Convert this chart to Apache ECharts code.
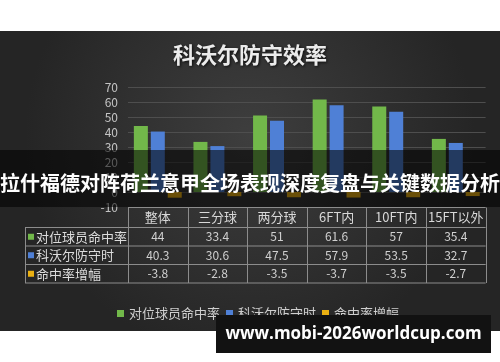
<!DOCTYPE html>
<html><head><meta charset="utf-8">
<script src="https://cdn.jsdelivr.net/npm/echarts@6/dist/echarts.min.js"></script>
<style>html,body{margin:0;padding:0;background:#fff}#c{width:500px;height:362px}</style>
</head><body><div id="c"></div>
<script>
// ---- data ----
const categories = ['整体', '三分球', '两分球', '6FT内', '10FT内', '15FT以外'];
const seriesNames = ['对位球员命中率', '科沃尔防守时', '命中率增幅'];
const opponentPct = [44, 33.4, 51, 61.6, 57, 35.4];
const korverDefPct = [40.3, 30.6, 47.5, 57.9, 53.5, 32.7];
const pctChange = [-3.8, -2.8, -3.5, -3.7, -3.5, -2.7];
const yMin = -10, yMax = 70, yInterval = 10;
const chartTitle = '科沃尔防守效率';
const bannerText = '拉什福德对阵荷兰意甲全场表现深度复盘与关键数据分析';
const watermarkText = 'www.mobi-2026worldcup.com';

// ---- layout / style ----
const FONT = '"Noto Sans CJK SC", "Noto Sans", sans-serif';
const colors = ['#72b84a', '#4f80d6', '#eab012'];
const gL = 128, gR = 485.6, gT = 87, gB = 207;
const colW = (gR - gL) / categories.length;
const tableTop = 207.5, rowLines = [227.5, 246, 264.5, 283];
const lineColor = '#8c8c8c';

const seriesData = [opponentPct, korverDefPct, pctChange];
const graphics = [];

// background panel
graphics.push({
  type: 'rect', z: -100, silent: true,
  shape: { x: 0, y: 31, width: 500, height: 300 },
  style: { fill: new echarts.graphic.RadialGradient(0.5, 0.35, 0.75, [
    { offset: 0, color: '#3e3e3e' }, { offset: 1, color: '#252525' }]) }
});
// title
graphics.push({
  type: 'text', z: 20, x: 250, y: 55,
  style: { text: chartTitle, fill: '#ececec', font: 'bold 22px ' + FONT, align: 'center', verticalAlign: 'middle',
    textShadowColor: 'rgba(0,0,0,0.8)', textShadowBlur: 3, textShadowOffsetX: 1, textShadowOffsetY: 1 }
});
// table lines
function hline(y, x1, x2) {
  graphics.push({ type: 'line', z: 10, silent: true, shape: { x1: x1, y1: y, x2: x2, y2: y }, style: { stroke: lineColor, lineWidth: 1 } });
}
function vline(x, y1, y2) {
  graphics.push({ type: 'line', z: 10, silent: true, shape: { x1: x, y1: y1, x2: x, y2: y2 }, style: { stroke: lineColor, lineWidth: 1 } });
}
hline(tableTop, gL, gR);
rowLines.forEach(y => hline(y, 25, gR));
for (let i = 0; i <= categories.length; i++) vline(Math.round(gL + i * colW) + 0.5, tableTop, rowLines[3]);
vline(25.5, rowLines[0], rowLines[3]);
// header texts
categories.forEach((c, i) => {
  graphics.push({ type: 'text', z: 10, x: gL + (i + 0.5) * colW, y: (tableTop + rowLines[0]) / 2,
    style: { text: c, fill: '#d8d8d8', font: '13px ' + FONT, align: 'center', verticalAlign: 'middle' } });
});
// rows
seriesNames.forEach((name, r) => {
  const yc = (rowLines[r] + rowLines[r + 1]) / 2;
  graphics.push({ type: 'rect', z: 10, shape: { x: 28, y: yc - 3, width: 6, height: 6 }, style: { fill: colors[r] } });
  graphics.push({ type: 'text', z: 10, x: 36, y: yc,
    style: { text: name, fill: '#dcdcdc', font: '13px ' + FONT, align: 'left', verticalAlign: 'middle' } });
  seriesData[r].forEach((v, i) => {
    graphics.push({ type: 'text', z: 10, x: gL + (i + 0.5) * colW, y: yc,
      style: { text: String(v), fill: '#d0d0d0', font: '12px ' + FONT, align: 'center', verticalAlign: 'middle' } });
  });
});
// banner overlay
graphics.push({ type: 'rect', z: 100, silent: true, shape: { x: 0, y: 150, width: 500, height: 57 }, style: { fill: 'rgba(0,0,0,0.55)' } });
graphics.push({ type: 'text', z: 101, x: 250, y: 183,
  style: { text: bannerText, fill: '#ffffff', font: 'bold 20px ' + FONT, align: 'center', verticalAlign: 'middle' } });
// watermark
graphics.push({ type: 'rect', z: 100, silent: true, shape: { x: 216, y: 315, width: 275, height: 38 }, style: { fill: '#121212' } });
graphics.push({ type: 'text', z: 101, x: 353.5, y: 334,
  style: { text: watermarkText, fill: '#ffffff', font: 'bold 17px "Open Sans", "DejaVu Sans", sans-serif', align: 'center', verticalAlign: 'middle' } });

const chart = echarts.init(document.getElementById('c'), null, { renderer: 'canvas' });
chart.setOption({
  animation: false,
  backgroundColor: 'transparent',
  color: colors,
  textStyle: { fontFamily: FONT },
  grid: { left: gL, right: 500 - gR, top: gT, bottom: 362 - gB, containLabel: false },
  legend: {
    data: seriesNames, left: 112, top: 302, icon: 'rect', itemWidth: 7, itemHeight: 7, itemGap: 6,
    textStyle: { color: '#cfcfcf', fontSize: 13, fontFamily: FONT }
  },
  xAxis: {
    type: 'category', data: categories,
    axisLabel: { show: false }, axisTick: { show: false },
    axisLine: { show: true, lineStyle: { color: '#5a5a5a' } }
  },
  yAxis: {
    type: 'value', min: yMin, max: yMax, interval: yInterval,
    axisLabel: { color: '#c4c4c4', fontSize: 12, margin: 10, fontFamily: FONT },
    axisLine: { show: false }, axisTick: { show: false },
    splitLine: { lineStyle: { color: '#4e4e4e' } }
  },
  series: seriesNames.map((n, i) => ({
    name: n, type: 'bar', data: seriesData[i], barWidth: 14, barGap: '21%'
  })),
  graphic: { elements: graphics }
});
</script>
</body></html>
